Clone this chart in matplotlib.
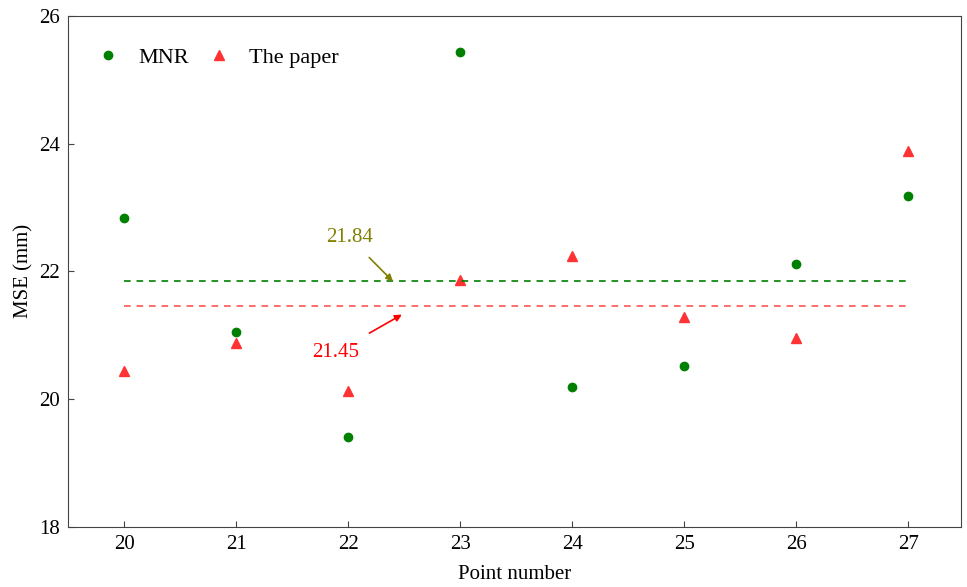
import matplotlib.pyplot as plt
import numpy as np

plt.rcParams['font.family'] = ['Liberation Serif', 'DejaVu Serif']

# data
points = [20, 21, 22, 23, 24, 25, 26, 27]
mse_mnr = [22.83, 21.04, 19.40, 25.44, 20.18, 20.51, 22.11, 23.18]
mse_paper = [20.43, 20.87, 20.12, 21.86, 22.24, 21.28, 20.96, 23.89]
mean_mnr = 21.84
mean_paper = 21.45

fig = plt.figure(figsize=(9.67, 5.87), dpi=100)
ax = fig.add_axes([0.0703, 0.103, 0.9235, 0.870])

ax.plot(points, mse_mnr, 'o', color='green', markersize=6, label='MNR')
ax.plot(points, mse_paper, '^', color='#ff3333', markersize=7, label='The paper')

# mean lines
ax.plot([points[0], points[-1]], [mean_mnr, mean_mnr], color='green', lw=1.2,
        dashes=(4, 3.5))
ax.plot([points[0], points[-1]], [mean_paper, mean_paper], color='#ff5555', lw=1.2,
        dashes=(4, 3.5))

ax.annotate(f'{mean_mnr:.2f}', xy=(22.40, mean_mnr), xytext=(22.01, 22.53),
            color='#808000', fontsize=15, ha='center', va='center',
            arrowprops=dict(arrowstyle='-|>', color='#808000', lw=1.2,
                            shrinkA=8, shrinkB=0, mutation_scale=10))
ax.annotate(f'{mean_paper:.2f}', xy=(22.48, 21.32), xytext=(21.89, 20.73),
            color='red', fontsize=15, ha='center', va='center',
            arrowprops=dict(arrowstyle='-|>', color='red', lw=1.2,
                            shrinkA=10, shrinkB=0, mutation_scale=10))

ax.set_xlim(19.5, 27.47)
ax.set_ylim(18, 26)
ax.set_xticks(points)
ax.set_yticks([18, 20, 22, 24, 26])
ax.tick_params(direction='in', length=4, labelsize=15, color='#444444', pad=6)
for s in ax.spines.values():
    s.set_color('#444444')

ax.set_xlabel('Point number', fontsize=15, labelpad=8)
ax.set_ylabel('MSE (mm)', fontsize=15, labelpad=4)

ax.legend(loc='upper left', ncol=2, frameon=False, fontsize=16,
          bbox_to_anchor=(0.004, 0.977), columnspacing=0.6, handlelength=1.5,
          handletextpad=0.6)

fig.savefig('out.png', dpi=100)
